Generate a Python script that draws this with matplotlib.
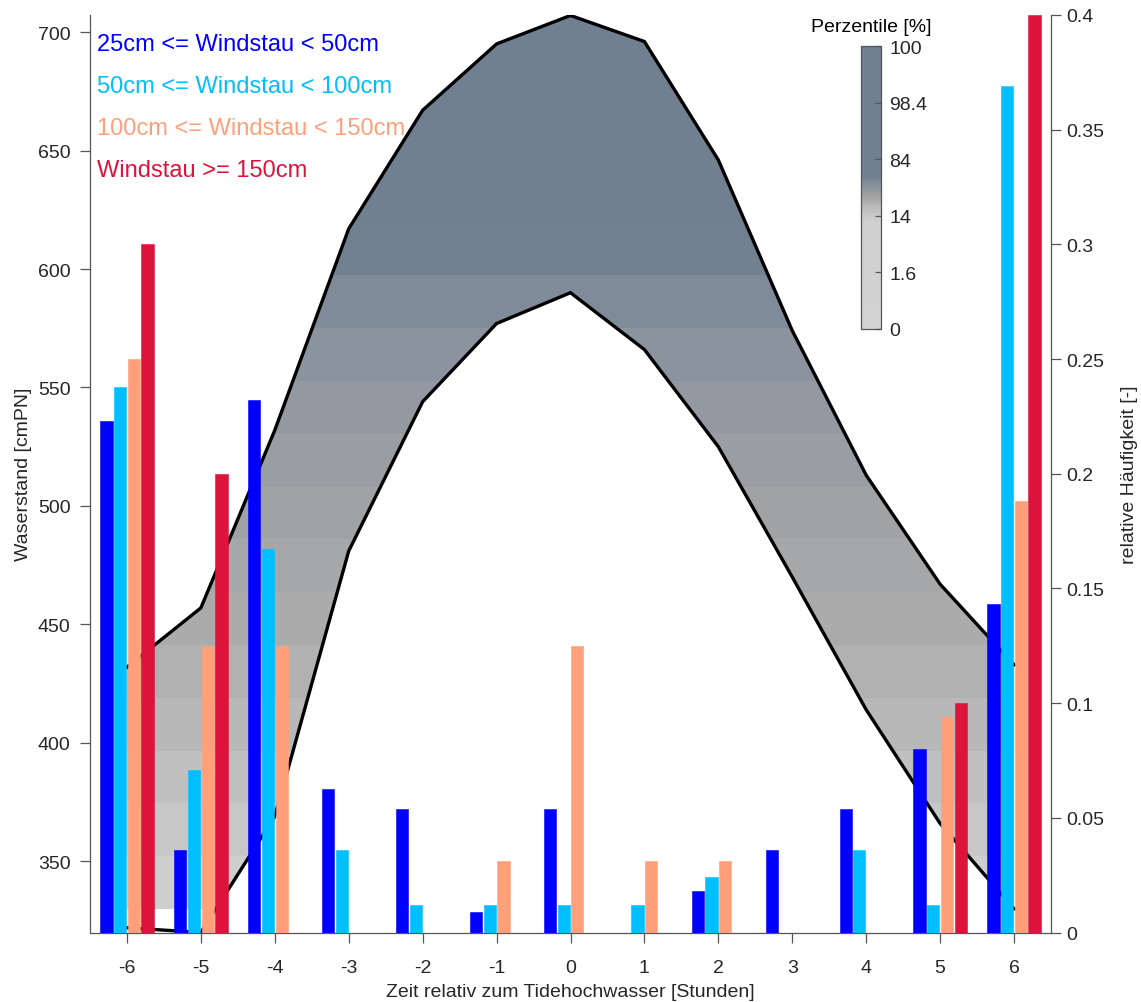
import numpy as np
import matplotlib.pyplot as plt
from matplotlib.colors import LinearSegmentedColormap, Normalize
from matplotlib.cm import ScalarMappable

plt.rcParams['font.family'] = ['Liberation Sans', 'DejaVu Sans']

hours = np.arange(-6, 7)

# percentile band of water level [cmPN]
upper = [432, 457, 532, 617, 667, 695, 707, 696, 646, 574, 513, 467, 433]
lower = [322, 320, 369, 481, 544, 577, 590, 566, 525, 470, 414, 366, 330]

# relative frequency per surge class
freq_25_50 = [0.223, 0.036, 0.232, 0.0625, 0.054, 0.009, 0.054, 0.0, 0.018, 0.036, 0.054, 0.080, 0.143]
freq_50_100 = [0.238, 0.071, 0.167, 0.036, 0.012, 0.012, 0.012, 0.012, 0.024, 0.0, 0.036, 0.012, 0.369]
freq_100_150 = [0.25, 0.125, 0.125, 0.0, 0.0, 0.031, 0.125, 0.031, 0.031, 0.0, 0.0, 0.094, 0.188]
freq_150 = [0.3, 0.2, 0.0, 0.0, 0.0, 0.0, 0.0, 0.0, 0.0, 0.0, 0.0, 0.1, 0.4]

classes = ["25cm <= Windstau < 50cm", "50cm <= Windstau < 100cm",
           "100cm <= Windstau < 150cm", "Windstau >= 150cm"]
class_colors = ["#0000ff", "#00bfff", "#ffa07a", "#dc143c"]

perc_labels = ["0", "1.6", "14", "84", "98.4", "100"]

txt = "#262626"

fig = plt.figure(figsize=(11.41, 10.03), dpi=100)
ax = fig.add_axes([90/1141, 1 - 933.5/1003, 961/1141, 917.5/1003])

# gradient fill between the two curves, horizontal strips
band_cmap = LinearSegmentedColormap.from_list(
    "band", [(0.0, "#d2d2d2"), (0.3, "#adadad"), (0.45, "#a0a2a5"),
             (0.6, "#8d96a0"), (0.68, "#7f8b98"), (0.74, "#708090"),
             (1.0, "#708090")])
edges = np.arange(330, 730, 22.3)
mids = 0.5 * (edges[:-1] + edges[1:])
strip_cols = band_cmap(Normalize(330, 710)(mids))[:, :3]
img = strip_cols[:, None, :]
poly = ax.fill_between(hours, lower, upper, color="none", lw=0)
im = ax.imshow(img, extent=[-6, 6, edges[0], edges[-1]], origin="lower",
               aspect="auto", interpolation="nearest", zorder=1)
im.set_clip_path(poly.get_paths()[0], transform=ax.transData)
ax.set_xlim(-6.5, 6.5)
ax.set_ylim(320, 707.2)

ax.plot(hours, upper, color="k", lw=2.4, zorder=2, solid_joinstyle="miter")
ax.plot(hours, lower, color="k", lw=2.4, zorder=2, solid_joinstyle="miter")

ax2 = ax.twinx()
offsets = [-0.278, -0.0925, 0.0925, 0.278]
series = [freq_25_50, freq_50_100, freq_100_150, freq_150]
for off, vals, col in zip(offsets, series, class_colors):
    ax2.bar(hours + off, vals, width=0.165, color=col, edgecolor=col, lw=0.4)
ax2.set_ylim(0, 0.4)
ax2.set_yticks(np.arange(0, 0.41, 0.05))
ax2.set_yticklabels(["0", "0.05", "0.1", "0.15", "0.2", "0.25", "0.3", "0.35", "0.4"])

ax.set_xticks(hours)
ax.set_xticklabels([str(h) for h in hours])
ax.set_yticks(np.arange(350, 701, 50))

for a in (ax, ax2):
    a.spines["top"].set_visible(False)
    for s in a.spines.values():
        s.set_color("#555555")
        s.set_linewidth(0.9)
ax.spines["right"].set_visible(False)
ax2.spines["left"].set_visible(False)
ax2.spines["bottom"].set_visible(False)

ax.tick_params(axis="x", direction="out", length=7, width=0.9, color="#555555",
               labelsize=14, labelcolor=txt, pad=12)
ax.tick_params(axis="y", direction="out", length=7, width=0.9, color="#555555",
               labelsize=14, labelcolor=txt, pad=7)
ax2.tick_params(axis="y", direction="out", length=7, width=0.9, color="#555555",
                labelsize=14, labelcolor=txt, pad=4)

ax.set_xlabel("Zeit relativ zum Tidehochwasser [Stunden]", fontsize=14, color=txt, labelpad=5)
ax.set_ylabel("Waserstand [cmPN]", fontsize=14, color=txt, labelpad=4)
ax2.set_ylabel("relative Häufigkeit [-]", fontsize=14, color=txt, labelpad=12)

for i, (lab, col) in enumerate(zip(classes, class_colors)):
    ax2.text(0.0073, 0.968 - i * 0.0457, lab, color=col, fontsize=17,
             ha="left", va="center", transform=ax.transAxes, zorder=5)

# percentile colorbar
cbar_cmap = LinearSegmentedColormap.from_list(
    "perc", [(0.0, "#d3d3d3"), (0.38, "#d0d0d0"), (0.43, "#bcbcbc"),
             (0.47, "#a2a2a2"), (0.5, "#8d959d"), (0.54, "#708090"),
             (1.0, "#708090")])
cax = fig.add_axes([861/1141, 1 - 330/1003, 20/1141, 283/1003])
cb = fig.colorbar(ScalarMappable(Normalize(0, 5), cbar_cmap), cax=cax)
cb.set_ticks(range(6))
cb.set_ticklabels(perc_labels)
cb.outline.set_edgecolor("#555555")
cb.outline.set_linewidth(0.9)
cax.tick_params(direction="in", length=4, width=0.9, color="#555555",
                labelsize=14, labelcolor=txt, pad=6)
cax.set_title("Perzentile [%]", fontsize=14, color="k", pad=11)

fig.savefig("out.png", dpi=100)
